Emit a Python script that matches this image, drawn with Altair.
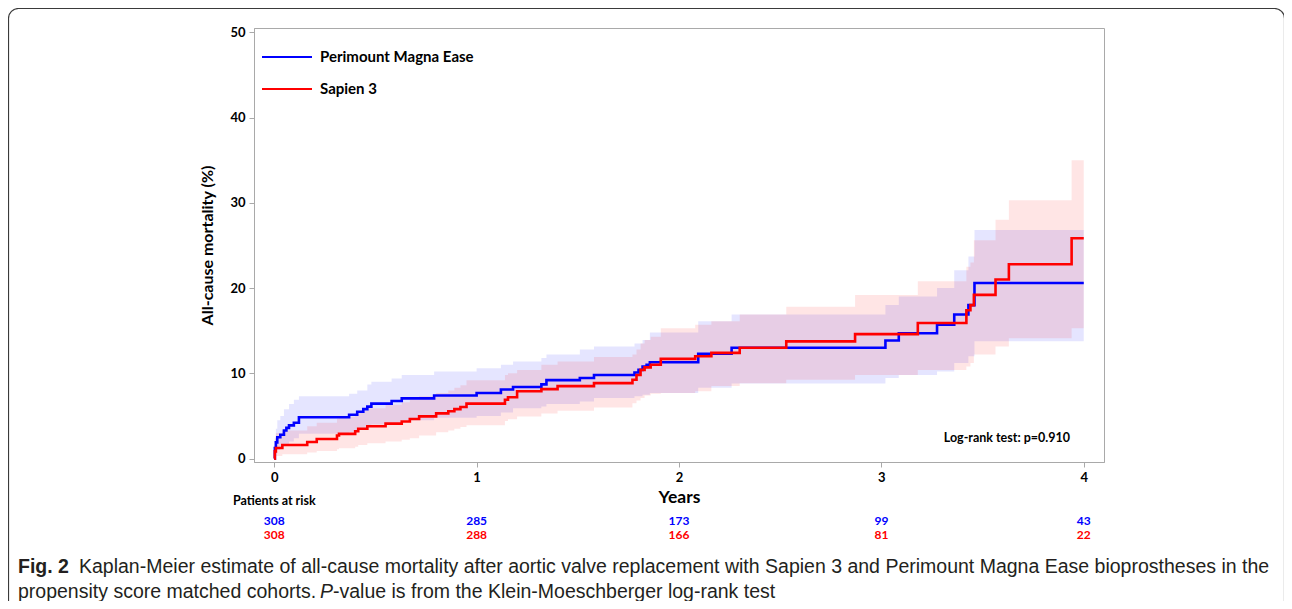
import altair as alt
import pandas as pd

# ---------------- data ----------------
series = ["Perimount Magna Ease", "Sapien 3"]
series_colors = ["#0000ff", "#ff0000"]

pme_t = [0, 0.003, 0.008, 0.015, 0.03, 0.048, 0.06, 0.073, 0.097, 0.122, 0.37, 0.41, 0.44,
         0.46, 0.48, 0.58, 0.63, 0.79, 1.0, 1.12, 1.18, 1.32, 1.345, 1.51, 1.58, 1.78, 1.80,
         1.82, 1.84, 1.856, 2.095, 2.26, 3.02, 3.086, 3.275, 3.36, 3.43, 3.46, 4.0]
pme_v = [0, 1.25, 1.9, 2.5, 2.8, 3.3, 3.6, 3.9, 4.2, 4.85, 5.15, 5.5, 5.8,
         6.1, 6.45, 6.75, 7.06, 7.4, 7.7, 8.1, 8.4, 8.7, 9.2, 9.45, 9.8, 10.1, 10.4,
         10.8, 11.0, 11.3, 12.3, 13.0, 13.85, 14.7, 15.7, 16.9, 18.0, 20.6, 20.6]

s3_t = [0, 0.003, 0.008, 0.04, 0.163, 0.21, 0.31, 0.32, 0.40, 0.415, 0.46, 0.55, 0.63, 0.67,
        0.716, 0.8, 0.86, 0.89, 0.92, 0.95, 1.14, 1.155, 1.2, 1.32, 1.40, 1.58, 1.77, 1.79,
        1.81, 1.83, 1.86, 1.91, 2.08, 2.16, 2.30, 2.53, 2.87, 3.18, 3.42, 3.44, 3.457, 3.564,
        3.63, 3.94, 4.0]
s3_v = [0, 0.85, 1.25, 1.6, 1.95, 2.3, 2.7, 2.9, 3.2, 3.5, 3.8, 4.1, 4.35, 4.65,
        4.95, 5.3, 5.55, 5.8, 6.05, 6.45, 6.9, 7.2, 7.9, 8.15, 8.5, 8.85, 9.25, 9.8,
        10.4, 10.7, 11.0, 11.7, 12.0, 12.4, 13.0, 13.75, 14.6, 15.9, 17.4, 18.0, 19.2, 21.0,
        22.8, 25.85, 25.85]

pme_band_t = [0, 0.003, 0.008, 0.015, 0.03, 0.048, 0.073, 0.097, 0.122, 0.37, 0.41, 0.46, 0.48,
              0.58, 0.63, 0.79, 1.0, 1.12, 1.18, 1.32, 1.345, 1.51, 1.58, 1.78, 1.82, 1.856,
              2.095, 2.26, 3.02, 3.086, 3.275, 3.36, 3.43, 3.46, 4.0]
pme_lo = [0, 0.2, 0.6, 1.0, 1.2, 1.6, 2.0, 2.4, 2.9, 3.1, 3.4, 3.8, 4.0,
          4.2, 4.5, 4.8, 5.0, 5.4, 5.9, 6.1, 6.4, 6.7, 7.1, 7.3, 7.5, 7.7,
          8.3, 8.8, 9.45, 9.8, 10.2, 11.2, 12.0, 13.75, 13.75]
pme_hi = [0, 2.5, 3.5, 4.5, 5.0, 5.8, 6.4, 6.9, 7.3, 7.6, 8.0, 8.7, 9.0,
          9.4, 9.8, 10.2, 10.6, 11.0, 11.4, 11.8, 12.2, 12.8, 13.15, 13.5, 13.9, 14.8,
          16.1, 16.9, 18.0, 19.0, 20.0, 22.1, 23.7, 26.8, 26.8]

s3_band_t = [0, 0.003, 0.008, 0.04, 0.163, 0.21, 0.31, 0.32, 0.40, 0.415, 0.46, 0.55, 0.63,
             0.67, 0.716, 0.8, 0.86, 0.89, 0.92, 0.95, 1.14, 1.155, 1.2, 1.32, 1.40, 1.58,
             1.77, 1.79, 1.81, 1.83, 1.86, 1.91, 2.08, 2.16, 2.30, 2.53, 2.87, 3.18, 3.42,
             3.44, 3.457, 3.564, 3.63, 3.94, 4.0]
s3_lo = [0, 0.1, 0.3, 0.5, 0.7, 0.9, 1.1, 1.2, 1.4, 1.6, 1.8, 2.0, 2.2,
         2.4, 2.7, 3.1, 3.3, 3.5, 3.7, 3.9, 4.4, 4.6, 4.95, 5.3, 5.6, 6.0,
         6.5, 6.8, 7.1, 7.4, 7.6, 7.7, 7.9, 8.5, 8.85, 9.25, 9.8, 10.4, 10.8,
         11.2, 12.2, 13.15, 14.1, 15.3, 15.3]
s3_hi = [0, 2.4, 3.0, 3.3, 3.8, 4.2, 4.7, 4.9, 5.3, 5.6, 5.9, 6.3, 6.6,
         6.9, 7.3, 7.7, 8.0, 8.3, 8.6, 9.2, 9.8, 10.0, 10.4, 11.0, 11.4, 11.9,
         12.2, 12.8, 13.5, 13.9, 14.3, 15.3, 15.7, 16.1, 16.9, 17.8, 19.2, 20.8, 22.5,
         23.0, 25.6, 28.0, 30.3, 35.0, 35.0]

risk_years = [0, 1, 2, 3, 4]
risk_pme = [308, 285, 173, 99, 43]
risk_s3 = [308, 288, 166, 81, 22]

x_ticks = [0, 1, 2, 3, 4]
y_ticks = [0, 10, 20, 30, 40, 50]

# ---------------- styling ----------------
FONT = "Lato"
CAP_FONT = "Liberation Sans"
FRAME = "#a9a9a9"

x_scale = alt.Scale(domain=[-0.1, 4.1], nice=False, zero=False)
y_scale = alt.Scale(domain=[-0.4, 50.5], nice=False, zero=False)


def X(field):
    return alt.X(field, type="quantitative", scale=x_scale,
                 axis=alt.Axis(values=x_ticks, title="Years", format="d",
                               titleFontSize=17.5, titlePadding=4, labelPadding=4))


def Y(field):
    return alt.Y(field, type="quantitative", scale=y_scale,
                 axis=alt.Axis(values=y_ticks, title="All-cause mortality (%)", format="d",
                               titleFontSize=16, titlePadding=14, labelPadding=4))


pme_band = pd.DataFrame({"t": pme_band_t, "lo": pme_lo, "hi": pme_hi})
s3_band = pd.DataFrame({"t": s3_band_t, "lo": s3_lo, "hi": s3_hi})
pme_line = pd.DataFrame({"t": pme_t, "v": pme_v})
s3_line = pd.DataFrame({"t": s3_t, "v": s3_v})

band_pme = alt.Chart(pme_band).mark_area(interpolate="step-after", color=series_colors[0],
                                         opacity=0.1).encode(x=X("t"), y=Y("lo"), y2="hi")
band_s3 = alt.Chart(s3_band).mark_area(interpolate="step-after", color=series_colors[1],
                                       opacity=0.1).encode(x=X("t"), y=Y("lo"), y2="hi")
line_pme = alt.Chart(pme_line).mark_line(interpolate="step-after", color=series_colors[0],
                                         strokeWidth=2.6).encode(x=X("t"), y=Y("v"))
line_s3 = alt.Chart(s3_line).mark_line(interpolate="step-after", color=series_colors[1],
                                       strokeWidth=2.6).encode(x=X("t"), y=Y("v"))

one = pd.DataFrame({"k": [0]})

legend_layers = []
for i, (name, col) in enumerate(zip(series, series_colors)):
    yy = 29 + 32 * i
    legend_layers.append(
        alt.Chart(one).mark_rule(color=col, strokeWidth=2.2).encode(
            x=alt.value(8), x2=alt.value(58), y=alt.value(yy)))
    legend_layers.append(
        alt.Chart(one).mark_text(text=name, align="left", baseline="middle", font=FONT,
                                 fontWeight="bold", fontSize=15, color="#000000").encode(
            x=alt.value(66), y=alt.value(yy)))

logrank = alt.Chart(one).mark_text(text="Log-rank test: p=0.910", align="right",
                                   baseline="middle", font=FONT, fontWeight="bold",
                                   fontSize=12.5, color="#000000").encode(
    x=alt.value(816), y=alt.value(410))

risk_title = alt.Chart(one).mark_text(text="Patients at risk", align="left", baseline="middle",
                                      font=FONT, fontWeight="bold", fontSize=12.5,
                                      color="#000000").encode(
    x=alt.value(-21), y=alt.value(473))

risk_df = pd.DataFrame({"year": risk_years, "pme": risk_pme, "s3": risk_s3})
risk_pme_txt = alt.Chart(risk_df).mark_text(align="center", baseline="middle", font=FONT,
                                            fontWeight="bold", fontSize=12,
                                            color=series_colors[0]).encode(
    x=X("year"), y=alt.value(493), text=alt.Text("pme:Q"))
risk_s3_txt = alt.Chart(risk_df).mark_text(align="center", baseline="middle", font=FONT,
                                           fontWeight="bold", fontSize=12,
                                           color=series_colors[1]).encode(
    x=X("year"), y=alt.value(507), text=alt.Text("s3:Q"))

CAP_COL = "#231f20"
cap_parts = [
    ("Fig. 2", -236, 539, "bold", "normal"),
    ("Kaplan-Meier estimate of all-cause mortality after aortic valve replacement with Sapien 3 "
     "and Perimount Magna Ease bioprostheses in the", -175, 539, "normal", "normal"),
    ("propensity score matched cohorts.", -236, 564, "normal", "normal"),
    ("P", 66, 564, "normal", "italic"),
    ("-value is from the Klein-Moeschberger log-rank test", 79, 564, "normal", "normal"),
]
cap_layers = [
    alt.Chart(one).mark_text(text=txt, align="left", baseline="middle", font=CAP_FONT,
                             fontSize=19.5, fontWeight=fw, fontStyle=fs, color=CAP_COL).encode(
        x=alt.value(xx), y=alt.value(yy))
    for txt, xx, yy, fw, fs in cap_parts
]

border = alt.Chart(one).mark_rect(fillOpacity=0, stroke="#3a3a3a", strokeWidth=1.2,
                                  cornerRadius=10).encode(
    x=alt.value(-245.5), x2=alt.value(1030.5), y=alt.value(-19.5), y2=alt.value(640))

chart = alt.layer(
    band_pme, band_s3, line_pme, line_s3, *legend_layers, logrank, risk_title,
    risk_pme_txt, risk_s3_txt, *cap_layers, border
).properties(
    width=850, height=434, autosize="none",
    padding={"left": 246, "top": 20, "right": 180, "bottom": 139},
    background="#ffffff",
).configure_view(
    stroke=FRAME, strokeWidth=1
).configure_axis(
    grid=False, domainColor=FRAME, tickColor=FRAME, tickSize=5,
    labelFont=FONT, labelFontWeight="bold", labelFontSize=13, labelColor="#000000",
    titleFont=FONT, titleFontWeight="bold", titleColor="#000000",
)

chart.save("out.html", embed_options={"renderer": "svg", "actions": False})
